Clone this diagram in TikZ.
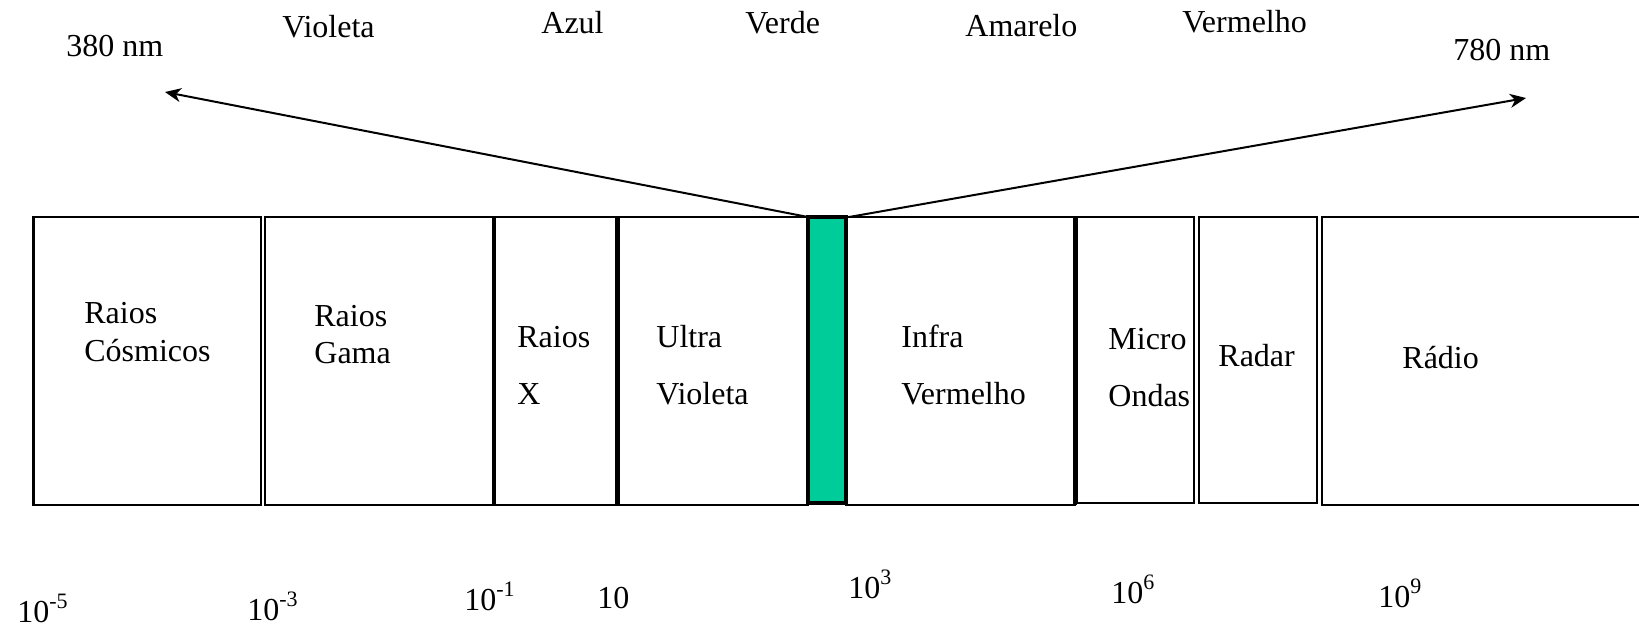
\documentclass[tikz,border=0pt]{standalone}
\usepackage{fontspec}
\setmainfont{Liberation Serif}
\usetikzlibrary{arrows.meta}
\definecolor{specgreen}{RGB}{0,204,153}
\newcommand{\band}[6]{\node[#6, minimum width={(#4-#2)*0.5pt}, minimum height={(#5-#3)*0.5pt}] (#1) at (#2,#3) {};}
\newcommand{\sups}[1]{\raisebox{0.42em}{\fontsize{11}{12}\selectfont #1}}
\begin{document}
\begin{tikzpicture}[x=0.5pt,y=-0.5pt,
  band/.style={draw, line width=1.2pt, rectangle, inner sep=0pt, outer sep=0pt, anchor=north west},
  greenband/.style={band, line width=2pt, fill=specgreen},
  thickline/.style={line width=2pt},
  lbl/.style={anchor=base west, inner sep=0pt, font=\fontsize{16}{19}\selectfont},
  ray/.style={line width=1pt, -{Stealth[length=8pt,width=7pt,inset=2.5pt]}}]
\useasboundingbox (0,0) rectangle (1639,628);
% bands
\band{cosm}{33.5}{217}{261}{505}{band}
\band{gama}{265}{217}{494}{505}{band}
\band{xray}{494}{217}{616}{505}{band}
\band{uv}{618}{217}{808}{505}{band}
\band{ir}{846}{217}{1075}{505}{band}
\band{micro}{1077}{217}{1194}{503}{band}
\band{radar}{1199}{217}{1317}{503}{band}
\band{radio}{1322}{217}{1680}{505}{band}
\band{vis}{808}{217}{846}{503}{greenband}
\draw[thickline] (xray.north west) -- (xray.south west);
\draw[thickline] (uv.north west) -- (uv.south west);
\draw[thickline] (ir.north east) -- (ir.south east);
% rays
\coordinate (tipL) at (165,92);
\coordinate (tipR) at (1526,98);
\draw[ray] (vis.north west) -- (tipL);
\draw[ray] ([xshift=1.5pt]vis.north east) -- (tipR);
% top labels
\node[lbl] (l380) at (66,56) {380 nm};
\node[lbl] (lviol) at (282,37) {Violeta};
\node[lbl] (lazul) at (541,33) {Azul};
\node[lbl] (lverde) at (745,33) {Verde};
\node[lbl] (lamar) at (965,36) {Amarelo};
\node[lbl] (lverm) at (1182,32) {Vermelho};
\node[lbl] (l780) at (1453,60) {780 nm};
% band labels
\node[lbl] (c1) at (84,323) {Raios};
\node[lbl] (c2) at (84,361) {Cósmicos};
\node[lbl] (g1) at (314,326) {Raios};
\node[lbl] (g2) at (314,363) {Gama};
\node[lbl] (x1) at (517,347) {Raios};
\node[lbl] (x2) at (517,404) {X};
\node[lbl] (u1) at (656,347) {Ultra};
\node[lbl] (u2) at (656,404) {Violeta};
\node[lbl] (i1) at (901,347) {Infra};
\node[lbl] (i2) at (901,404) {Vermelho};
\node[lbl] (m1) at (1108,349) {Micro};
\node[lbl] (m2) at (1108,406) {Ondas};
\node[lbl] (rd) at (1218,366) {Radar};
\node[lbl] (ro) at (1402,368) {Rádio};
% scale labels
\node[lbl] (s1) at (17,622) {10\sups{-5}};
\node[lbl] (s2) at (247,620) {10\sups{-3}};
\node[lbl] (s3) at (464,610) {10\sups{-1}};
\node[lbl] (s4) at (597,608) {10};
\node[lbl] (s5) at (848,598) {10\sups{3}};
\node[lbl] (s6) at (1111,603) {10\sups{6}};
\node[lbl] (s7) at (1378,607) {10\sups{9}};
\end{tikzpicture}
\end{document}
